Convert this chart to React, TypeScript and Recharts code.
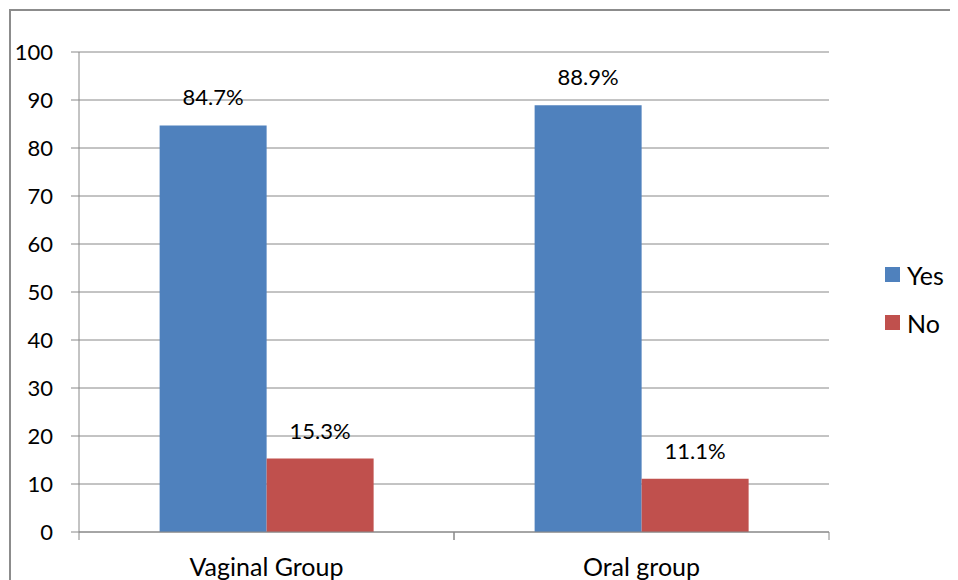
import React from 'react';
import { BarChart, Bar, XAxis, YAxis, CartesianGrid, Legend, LabelList } from 'recharts';

const groups = ['Vaginal Group', 'Oral group'];
const seriesNames = ['Yes', 'No'];
const yesValues = [84.7, 88.9];
const noValues = [15.3, 11.1];
const yTicks = [0, 10, 20, 30, 40, 50, 60, 70, 80, 90, 100];

const data = groups.map((g, i) => ({ group: g, Yes: yesValues[i], No: noValues[i] }));

const GRID = '#888888';
const FONT = 'Lato, "Open Sans", sans-serif';

// category tick: label in the middle, tick marks on the band edges
const GroupTick = (props: any) => {
  const { x, y, payload } = props;
  const half = payload.offset ?? 0;
  const axisY = y - 27;
  return (
    <g>
      <line x1={x - half} x2={x - half} y1={axisY} y2={axisY + 8} stroke={GRID} />
      <line x1={x + half} x2={x + half} y1={axisY} y2={axisY + 8} stroke={GRID} />
      <text x={x} y={y} dy="0.66em" textAnchor="middle" fontSize={25} fill="#000">
        {payload.value}
      </text>
    </g>
  );
};

const LegendBox = (props: any) => {
  const items = [...(props.payload || [])].sort(
    (a: any, b: any) => seriesNames.indexOf(a.value) - seriesNames.indexOf(b.value)
  );
  return (
    <div style={{ fontFamily: FONT, fontSize: 25, color: '#000' }}>
      {items.map((p: any) => (
        <div key={p.value} style={{ height: 48, display: 'flex', alignItems: 'center' }}>
          <span style={{ width: 15, height: 15, background: p.color, display: 'inline-block', marginRight: 7 }} />
          <span>{p.value}</span>
        </div>
      ))}
    </div>
  );
};

const App: React.FC = () => {
  return (
    <div
      style={{
        position: 'relative',
        width: 950,
        height: 572,
        marginTop: 1,
        marginLeft: 1,
        borderTop: '2px solid #8c8c8c',
        borderLeft: '2px solid #8c8c8c',
        background: '#fff',
      }}
    >
      <BarChart
        width={939}
        height={569}
        data={data}
        margin={{ top: 41, right: 121, bottom: 8, left: 0 }}
        barCategoryGap="21.5%"
        barGap={0}
        style={{ fontFamily: FONT }}
      >
        <CartesianGrid vertical={false} stroke={GRID} />
        <XAxis
          dataKey="group"
          height={40}
          stroke={GRID}
          tickLine={false}
          tickSize={8}
          tickMargin={19}
          tick={<GroupTick />}
          interval={0}
        />
        <YAxis
          width={68}
          domain={[0, 100]}
          ticks={yTicks}
          interval={0}
          stroke={GRID}
          tickSize={8}
          tickMargin={18}
          tick={{ fill: '#000', fontSize: 22 }}
        />
        <Legend
          layout="horizontal"
          align="center"
          verticalAlign="middle"
          content={<LegendBox />}
          wrapperStyle={{ left: 874, top: 239.5, width: 80 }}
        />
        <Bar dataKey="Yes" fill="#4F81BD" isAnimationActive={false}>
          <LabelList dataKey="Yes" position="top" offset={20} fill="#000" fontSize={22} formatter={(v: any) => `${v}%`} />
        </Bar>
        <Bar dataKey="No" fill="#C0504D" isAnimationActive={false}>
          <LabelList dataKey="No" position="top" offset={20} fill="#000" fontSize={22} formatter={(v: any) => `${v}%`} />
        </Bar>
      </BarChart>
    </div>
  );
};

export default App;
